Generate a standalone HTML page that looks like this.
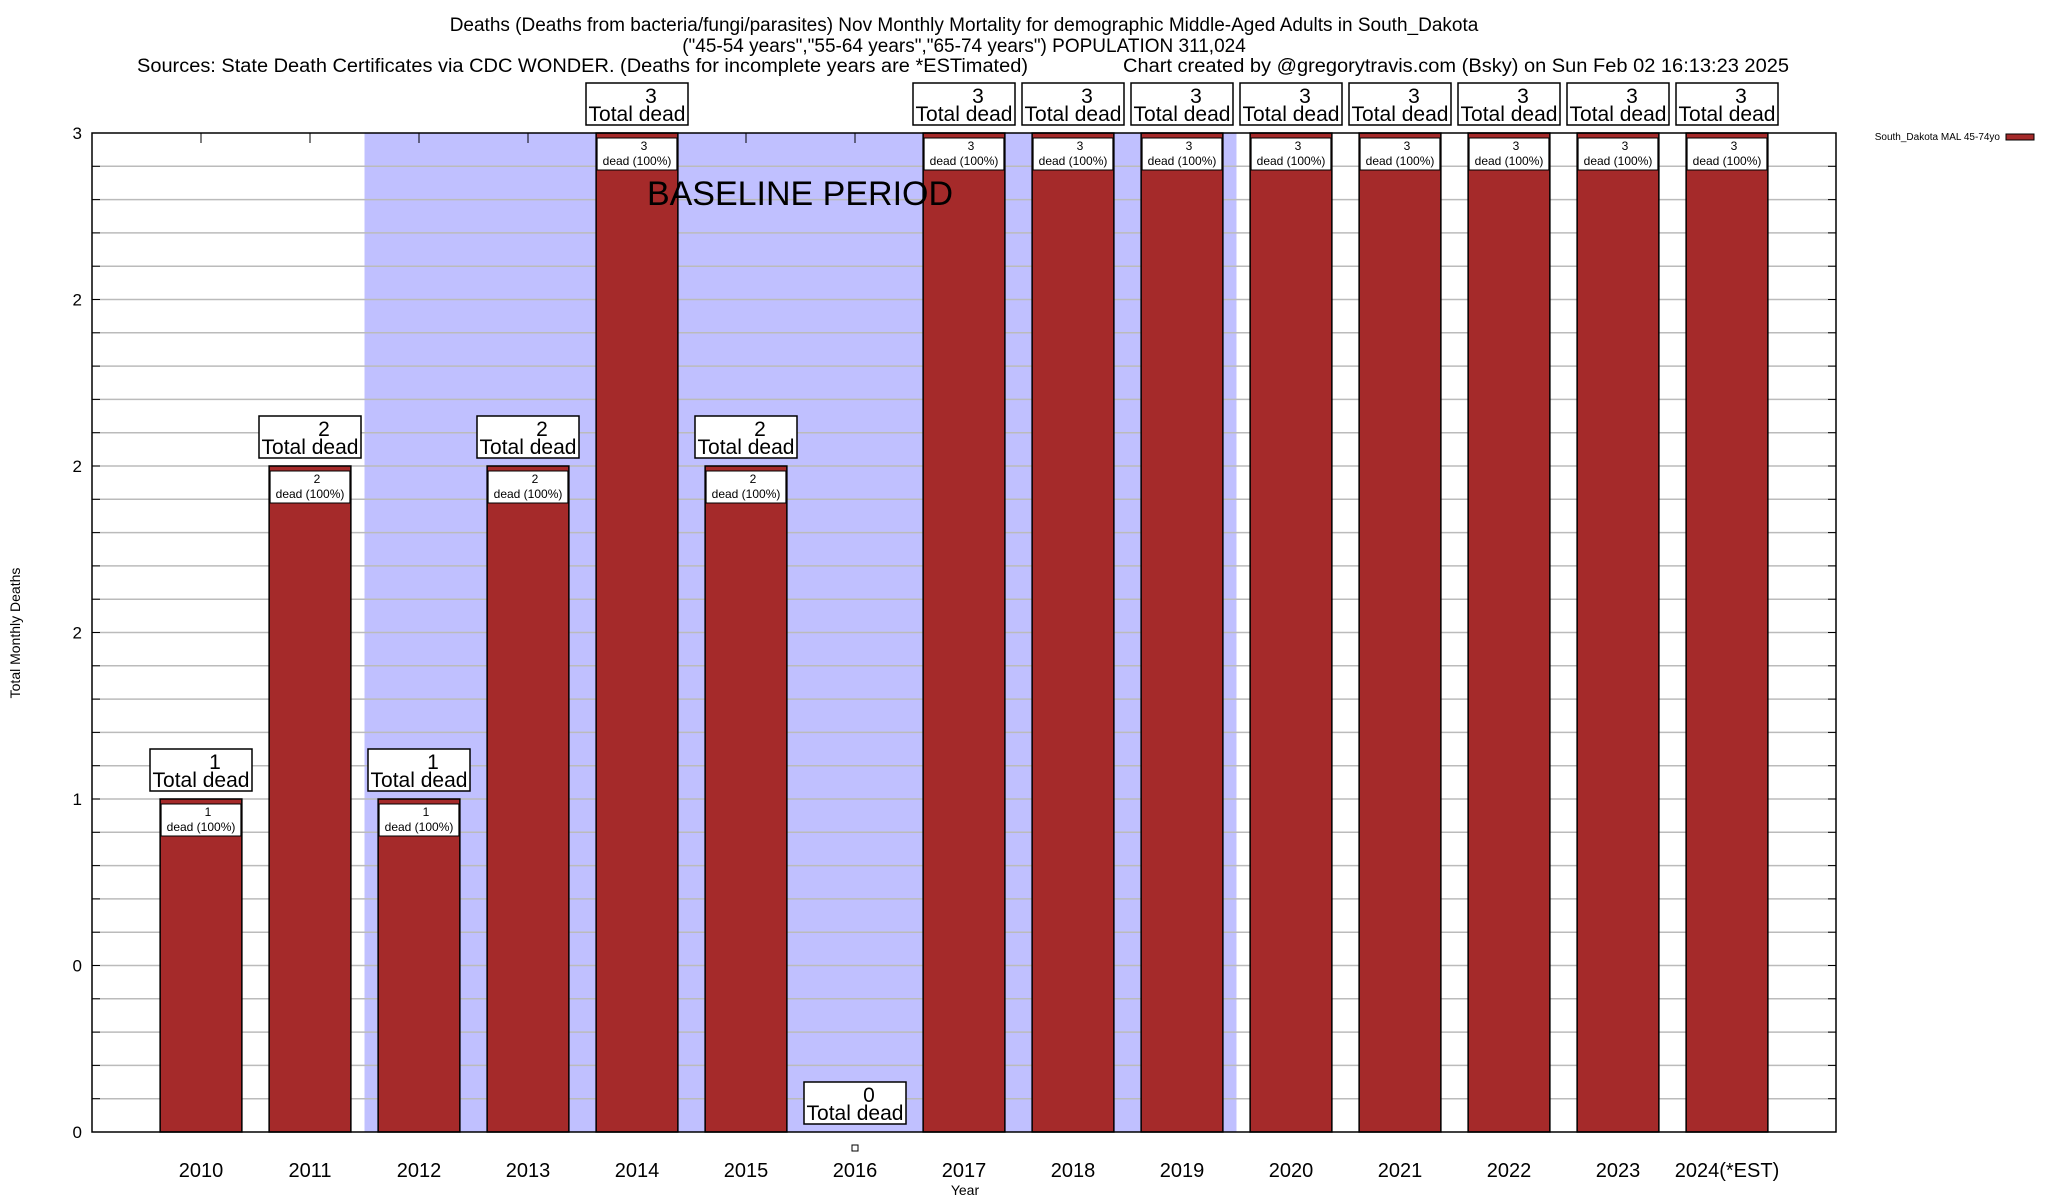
<!DOCTYPE html>
<html><head><meta charset="utf-8"><style>
html,body{margin:0;padding:0;background:#fff;}
svg{display:block;font-family:"Liberation Sans",Arial,sans-serif;}
</style></head><body>
<svg id="chart" width="2048" height="1200" viewBox="0 0 2048 1200" xmlns="http://www.w3.org/2000/svg">
<g font-size="19" fill="#000">
<text x="964" y="31" text-anchor="middle">Deaths (Deaths from bacteria/fungi/parasites) Nov Monthly Mortality for demographic Middle-Aged Adults in South_Dakota</text>
<text x="964" y="52" text-anchor="middle">("45-54 years","55-64 years","65-74 years") POPULATION 311,024</text>
<text x="137" y="72" textLength="891" lengthAdjust="spacingAndGlyphs">Sources: State Death Certificates via CDC WONDER. (Deaths for incomplete years are *ESTimated)</text>
<text x="1123" y="72" textLength="666" lengthAdjust="spacingAndGlyphs">Chart created by @gregorytravis.com (Bsky) on Sun Feb 02 16:13:23 2025</text>
</g>
<g id="plot"></g>
</svg>
<script>
const years=["2010","2011","2012","2013","2014","2015","2016","2017","2018","2019","2020","2021","2022","2023","2024(*EST)"];
const deaths=[1,2,1,2,3,2,0,3,3,3,3,3,3,3,3];
const yTickValues=[0,0.5,1,1.5,2,2.5,3];
const yTickLabels=["0","0","1","2","2","2","3"];
const baselineStart=2; // index of first baseline year (2012)
const baselineEnd=9;   // index of last baseline year (2019)

const NS="http://www.w3.org/2000/svg";
const L=92,R=1836,T=133,B=1132;
const xMin=-1,xMax=15,yMin=0,yMax=3;
const xs=i=>L+(i-xMin)/(xMax-xMin)*(R-L);
const ys=v=>B-(v-yMin)/(yMax-yMin)*(B-T);
const unit=(R-L)/(xMax-xMin);
const barW=unit*0.75;
const g=document.getElementById('plot');
function mk(tag,attrs,parent){const e=document.createElementNS(NS,tag);for(const k in attrs)e.setAttribute(k,attrs[k]);(parent||g).appendChild(e);return e;}

// baseline shading
const sh=mk('rect',{x:xs(baselineStart-0.5),y:T,width:xs(baselineEnd+0.5)-xs(baselineStart-0.5),height:B-T,fill:'#c0c0ff'});



// gridlines every 0.1
for(let k=1;k<30;k++){
  const v=k/10;
  const ln=mk('line',{x1:L,x2:R,y1:ys(v),y2:ys(v),stroke:'#bbb','stroke-width':1.5});
  
  
  mk('line',{x1:R-8,x2:R,y1:ys(v),y2:ys(v),stroke:'#000','stroke-width':1});
  mk('line',{x1:L,x2:L+8,y1:ys(v),y2:ys(v),stroke:'#000','stroke-width':1});
}

// bars
deaths.forEach((v,i)=>{
  const cx=xs(i),top=ys(v);
  mk('line',{x1:cx,x2:cx,y1:T,y2:T+10,stroke:'#000','stroke-width':1});
  if(v>0){
    const b=mk('rect',{x:cx-barW/2,y:top,width:barW,height:B-top,fill:'#a52a2a',stroke:'#000','stroke-width':1.5});
    
    
    const ib=mk('rect',{x:cx-barW/2+1,y:top+5,width:barW-2,height:32,fill:'#fff',stroke:'#000','stroke-width':1});
    
    
    const t1=mk('text',{x:cx+7,y:top+17,'font-size':12,'text-anchor':'middle'});t1.textContent=String(v);
    const t2=mk('text',{x:cx,y:top+32,'font-size':12,'text-anchor':'middle'});t2.textContent='dead (100%)';
  } else {
    const m=mk('rect',{x:cx-3,y:B+13,width:6,height:6,fill:'#fff',stroke:'#000','stroke-width':1});
    
    
  }
  const ob=mk('rect',{x:cx-51,y:top-50,width:102,height:42,fill:'#fff',stroke:'#000','stroke-width':1.5});
  
  
  const n=mk('text',{x:cx+14,y:top-30,'font-size':21,'text-anchor':'middle'});n.textContent=String(v);
  const td=mk('text',{x:cx,y:top-12,'font-size':21,'text-anchor':'middle'});td.textContent='Total dead';
  const xl=mk('text',{x:cx,y:1177,'font-size':20,'text-anchor':'middle'});xl.textContent=years[i];
  
  
});

// baseline label (on top of bars)
const bl=mk('text',{x:800,y:205,'font-size':34,'text-anchor':'middle',fill:'#000'});
bl.textContent='BASELINE PERIOD';



// y ticks
yTickValues.forEach((v,i)=>{
  const t=mk('text',{x:82,y:ys(v)+6,'font-size':17,'text-anchor':'end'});t.textContent=yTickLabels[i];
  
  
});
// frame
const fr=mk('rect',{x:L,y:T,width:R-L,height:B-T,fill:'none',stroke:'#000','stroke-width':1.5});


// axis titles
const xt=mk('text',{x:965,y:1195,'font-size':14,'text-anchor':'middle'});xt.textContent='Year';


const yt=mk('text',{x:0,y:0,'font-size':14,'text-anchor':'middle',transform:'translate(20,633) rotate(-90)'});yt.textContent='Total Monthly Deaths';


// legend
const lg=mk('g',{});


const lt=mk('text',{x:2000,y:140,'font-size':10,'text-anchor':'end'},lg);lt.textContent='South_Dakota MAL 45-74yo';
mk('rect',{x:2006,y:134,width:28,height:6,fill:'#a52a2a',stroke:'#000','stroke-width':1},lg);
</script>
</body></html>
